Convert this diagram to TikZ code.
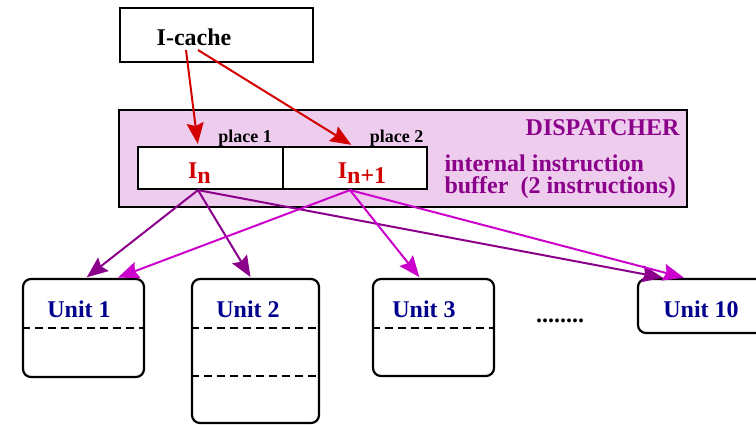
\documentclass[tikz,border=0pt]{standalone}
\usepackage{fontspec}
\setmainfont{Liberation Serif}
\usetikzlibrary{calc, positioning}
\usetikzlibrary{arrows.meta}

\definecolor{dispfill}{RGB}{238,204,238}
\definecolor{dispviolet}{RGB}{139,0,139}
\definecolor{linkmagenta}{RGB}{204,0,204}
\definecolor{fetchred}{RGB}{210,0,0}
\definecolor{unitblue}{RGB}{0,0,140}

\tikzset{
  box/.style={draw, line width=2.2pt, inner sep=0pt},
  unitbox/.style={box, rounded corners=8pt, fill=white},
  bigtxt/.style={font=\fontsize{24}{28}\selectfont\bfseries},
  smalltxt/.style={font=\fontsize{18}{21}\selectfont\bfseries},
  feed/.style={line width=2pt, -{Stealth[length=21pt, width=17pt, inset=3pt]}},
  divider/.style={line width=2pt, dash pattern=on 8pt off 5pt},
}

\begin{document}
\begin{tikzpicture}[x=1pt, y=-1pt]
      \useasboundingbox (0,0) rectangle (756,424);

      \node[box, minimum width=193pt, minimum height=54pt] (icache) at (216.5,35) {};
      \node[bigtxt, anchor=base] (icachelbl) at (194,45) {I-cache};
      \coordinate (src1) at (186,50);
      \coordinate (src2) at (198,50);

      \node[box, fill=dispfill, minimum width=568pt, minimum height=97pt] (disp) at (403,158.5) {};
      \node[bigtxt, dispviolet, anchor=base east] (displbl) at (683,135) {DISPATCHER};

      \node[box, fill=white, minimum width=145pt, minimum height=42pt] (p1) at (210.5,168) {};
      \node[box, fill=white, minimum width=144pt, minimum height=42pt] (p2) at (355,168) {};
      \node[smalltxt, anchor=base] (p1lbl) at (245,142) {place 1};
      \node[smalltxt, anchor=base] (p2lbl) at (396.5,142) {place 2};
      \node[bigtxt, fetchred, anchor=base] (instn) at (199.5,178) {I\raisebox{-5pt}{n}};
      \node[bigtxt, fetchred, anchor=base] (instnn) at (362,178) {I\raisebox{-5pt}{n+1}};
      \node[bigtxt, dispviolet, anchor=base west] (buflbla) at (441,171) {internal instruction};
      \node[bigtxt, dispviolet, anchor=base west] (buflblb) at (441,193) {buffer\ \ (2 instructions)};

      \node[unitbox, minimum width=121pt, minimum height=98pt] (u1) at (83.5,328) {};
      \node[unitbox, minimum width=127pt, minimum height=144pt] (u2) at (255.5,351) {};
      \node[unitbox, minimum width=121pt, minimum height=97pt] (u3) at (433.5,327.5) {};
      \node[unitbox, minimum width=142pt, minimum height=54pt] (u10) at (709,306) {};

      \draw[divider] (u1.west |- 0,328) -- (u1.east |- 0,328);
      \draw[divider] (u2.west |- 0,328) -- (u2.east |- 0,328);
      \draw[divider] (u2.west |- 0,376) -- (u2.east |- 0,376);
      \draw[divider] (u3.west |- 0,328) -- (u3.east |- 0,328);

      \node[bigtxt, unitblue, anchor=base] (u1lbl) at (79,317) {Unit 1};
      \node[bigtxt, unitblue, anchor=base] (u2lbl) at (248,317) {Unit 2};
      \node[bigtxt, unitblue, anchor=base] (u3lbl) at (424,317) {Unit 3};
      \node[bigtxt, unitblue, anchor=base] (u10lbl) at (701,317) {Unit 10};
      \node[bigtxt, anchor=base] (dots) at (560,322) {........};

      \draw[feed, fetchred, shorten >=2pt] (src1) -- ([xshift=-12.5pt]p1.north);
      \draw[feed, fetchred, shorten >=2pt] (src2) -- ([xshift=-2pt]p2.north);

      \draw[feed, dispviolet, shorten >=1pt] ([xshift=-12.5pt]p1.south) -- ([xshift=2.5pt]u1.north);
      \draw[feed, dispviolet, shorten >=1pt] ([xshift=-12.5pt]p1.south) -- ([xshift=-4.5pt]u2.north);
      \draw[feed, dispviolet, shorten >=1pt] ([xshift=-12.5pt]p1.south) -- ([xshift=27pt]u10.north west);
      \draw[feed, linkmagenta, shorten >=1pt] ([xshift=-5pt]p2.south) -- ([xshift=33.5pt]u1.north);
      \draw[feed, linkmagenta, shorten >=1pt] ([xshift=-5pt]p2.south) -- ([xshift=-13.5pt]u3.north);
      \draw[feed, linkmagenta, shorten >=1pt] ([xshift=-5pt]p2.south) -- ([xshift=48pt]u10.north west);
    \end{tikzpicture}
\end{document}
